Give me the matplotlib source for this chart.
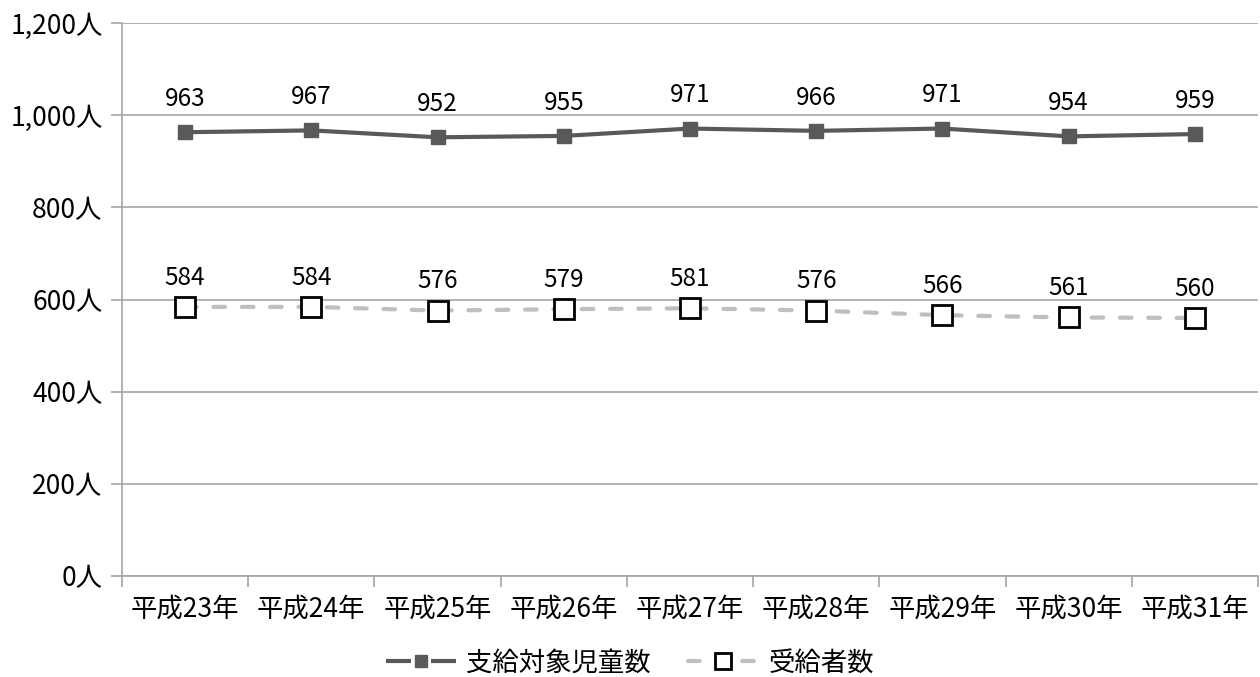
import matplotlib
matplotlib.use("Agg")
import matplotlib.pyplot as plt
from matplotlib.lines import Line2D
import numpy as np

plt.rcParams['font.family'] = ['Noto Sans CJK JP', 'DejaVu Sans']

categories = ["平成23年", "平成24年", "平成25年", "平成26年", "平成27年",
              "平成28年", "平成29年", "平成30年", "平成31年"]
children = [963, 967, 952, 955, 971, 966, 971, 954, 959]
recipients = [584, 584, 576, 579, 581, 576, 566, 561, 560]
series_names = ["支給対象児童数", "受給者数"]
yticks = [0, 200, 400, 600, 800, 1000, 1200]
ytick_labels = ["0人", "200人", "400人", "600人", "800人", "1,000人", "1,200人"]

fig = plt.figure(figsize=(12.6, 6.77), dpi=100)
ax = fig.add_axes([0.0968, 0.1492, 0.9016, 0.8168])

x = np.arange(len(categories))
dark = "#595959"
light = "#bfbfbf"

ax.plot(x, children, color=dark, lw=3, marker="s", ms=10,
        mfc=dark, mec=dark, zorder=3)
ax.plot(x, recipients, color=light, lw=3, ls=(0, (2.8, 4.0)),
        dash_capstyle="round", marker="s", ms=15,
        mfc="white", mec="black", mew=2, zorder=3)

for xi, v in zip(x, children):
    ax.annotate(f"{v}", (xi, v), xytext=(0, 24), textcoords="offset points",
                ha="center", va="center", fontsize=17.5, color="black")
for xi, v in zip(x, recipients):
    ax.annotate(f"{v}", (xi, v), xytext=(0, 21), textcoords="offset points",
                ha="center", va="center", fontsize=17.5, color="black")

ax.set_xlim(-0.5, len(categories) - 0.5)
ax.set_ylim(0, 1200)
ax.set_yticks(yticks)
ax.set_yticklabels(ytick_labels, fontsize=19)
ax.set_xticks(x)
ax.set_xticklabels(categories, fontsize=19)
ax.set_xticks(np.arange(-0.5, len(categories), 1.0), minor=True)
ax.tick_params(axis="x", which="major", length=0, pad=14)
ax.tick_params(axis="x", which="minor", length=8, color="#a6a6a6", width=1.2)
ax.tick_params(axis="y", length=8, color="#a6a6a6", width=1.2, pad=6)

ax.grid(axis="y", color="#a6a6a6", lw=1.2)
ax.set_axisbelow(True)
for s in ["top", "right"]:
    ax.spines[s].set_visible(False)
for s in ["left", "bottom"]:
    ax.spines[s].set_color("#a6a6a6")
    ax.spines[s].set_linewidth(1.2)

handles = [
    Line2D([], [], color=dark, lw=3, ls=(0, (6.0, 4.8)), marker="s", ms=9,
           mfc=dark, mec=dark),
    Line2D([], [], color=light, lw=3, ls=(0, (2.8, 10.2)),
           dash_capstyle="round", marker="s", ms=12,
           mfc="white", mec="black", mew=2),
]
fig.legend(handles, series_names, loc="center", bbox_to_anchor=(0.5, 0.021),
           ncol=2, frameon=False, fontsize=19, handlelength=2.65,
           handletextpad=0.4, columnspacing=1.4)

fig.savefig("out.png", dpi=100)
